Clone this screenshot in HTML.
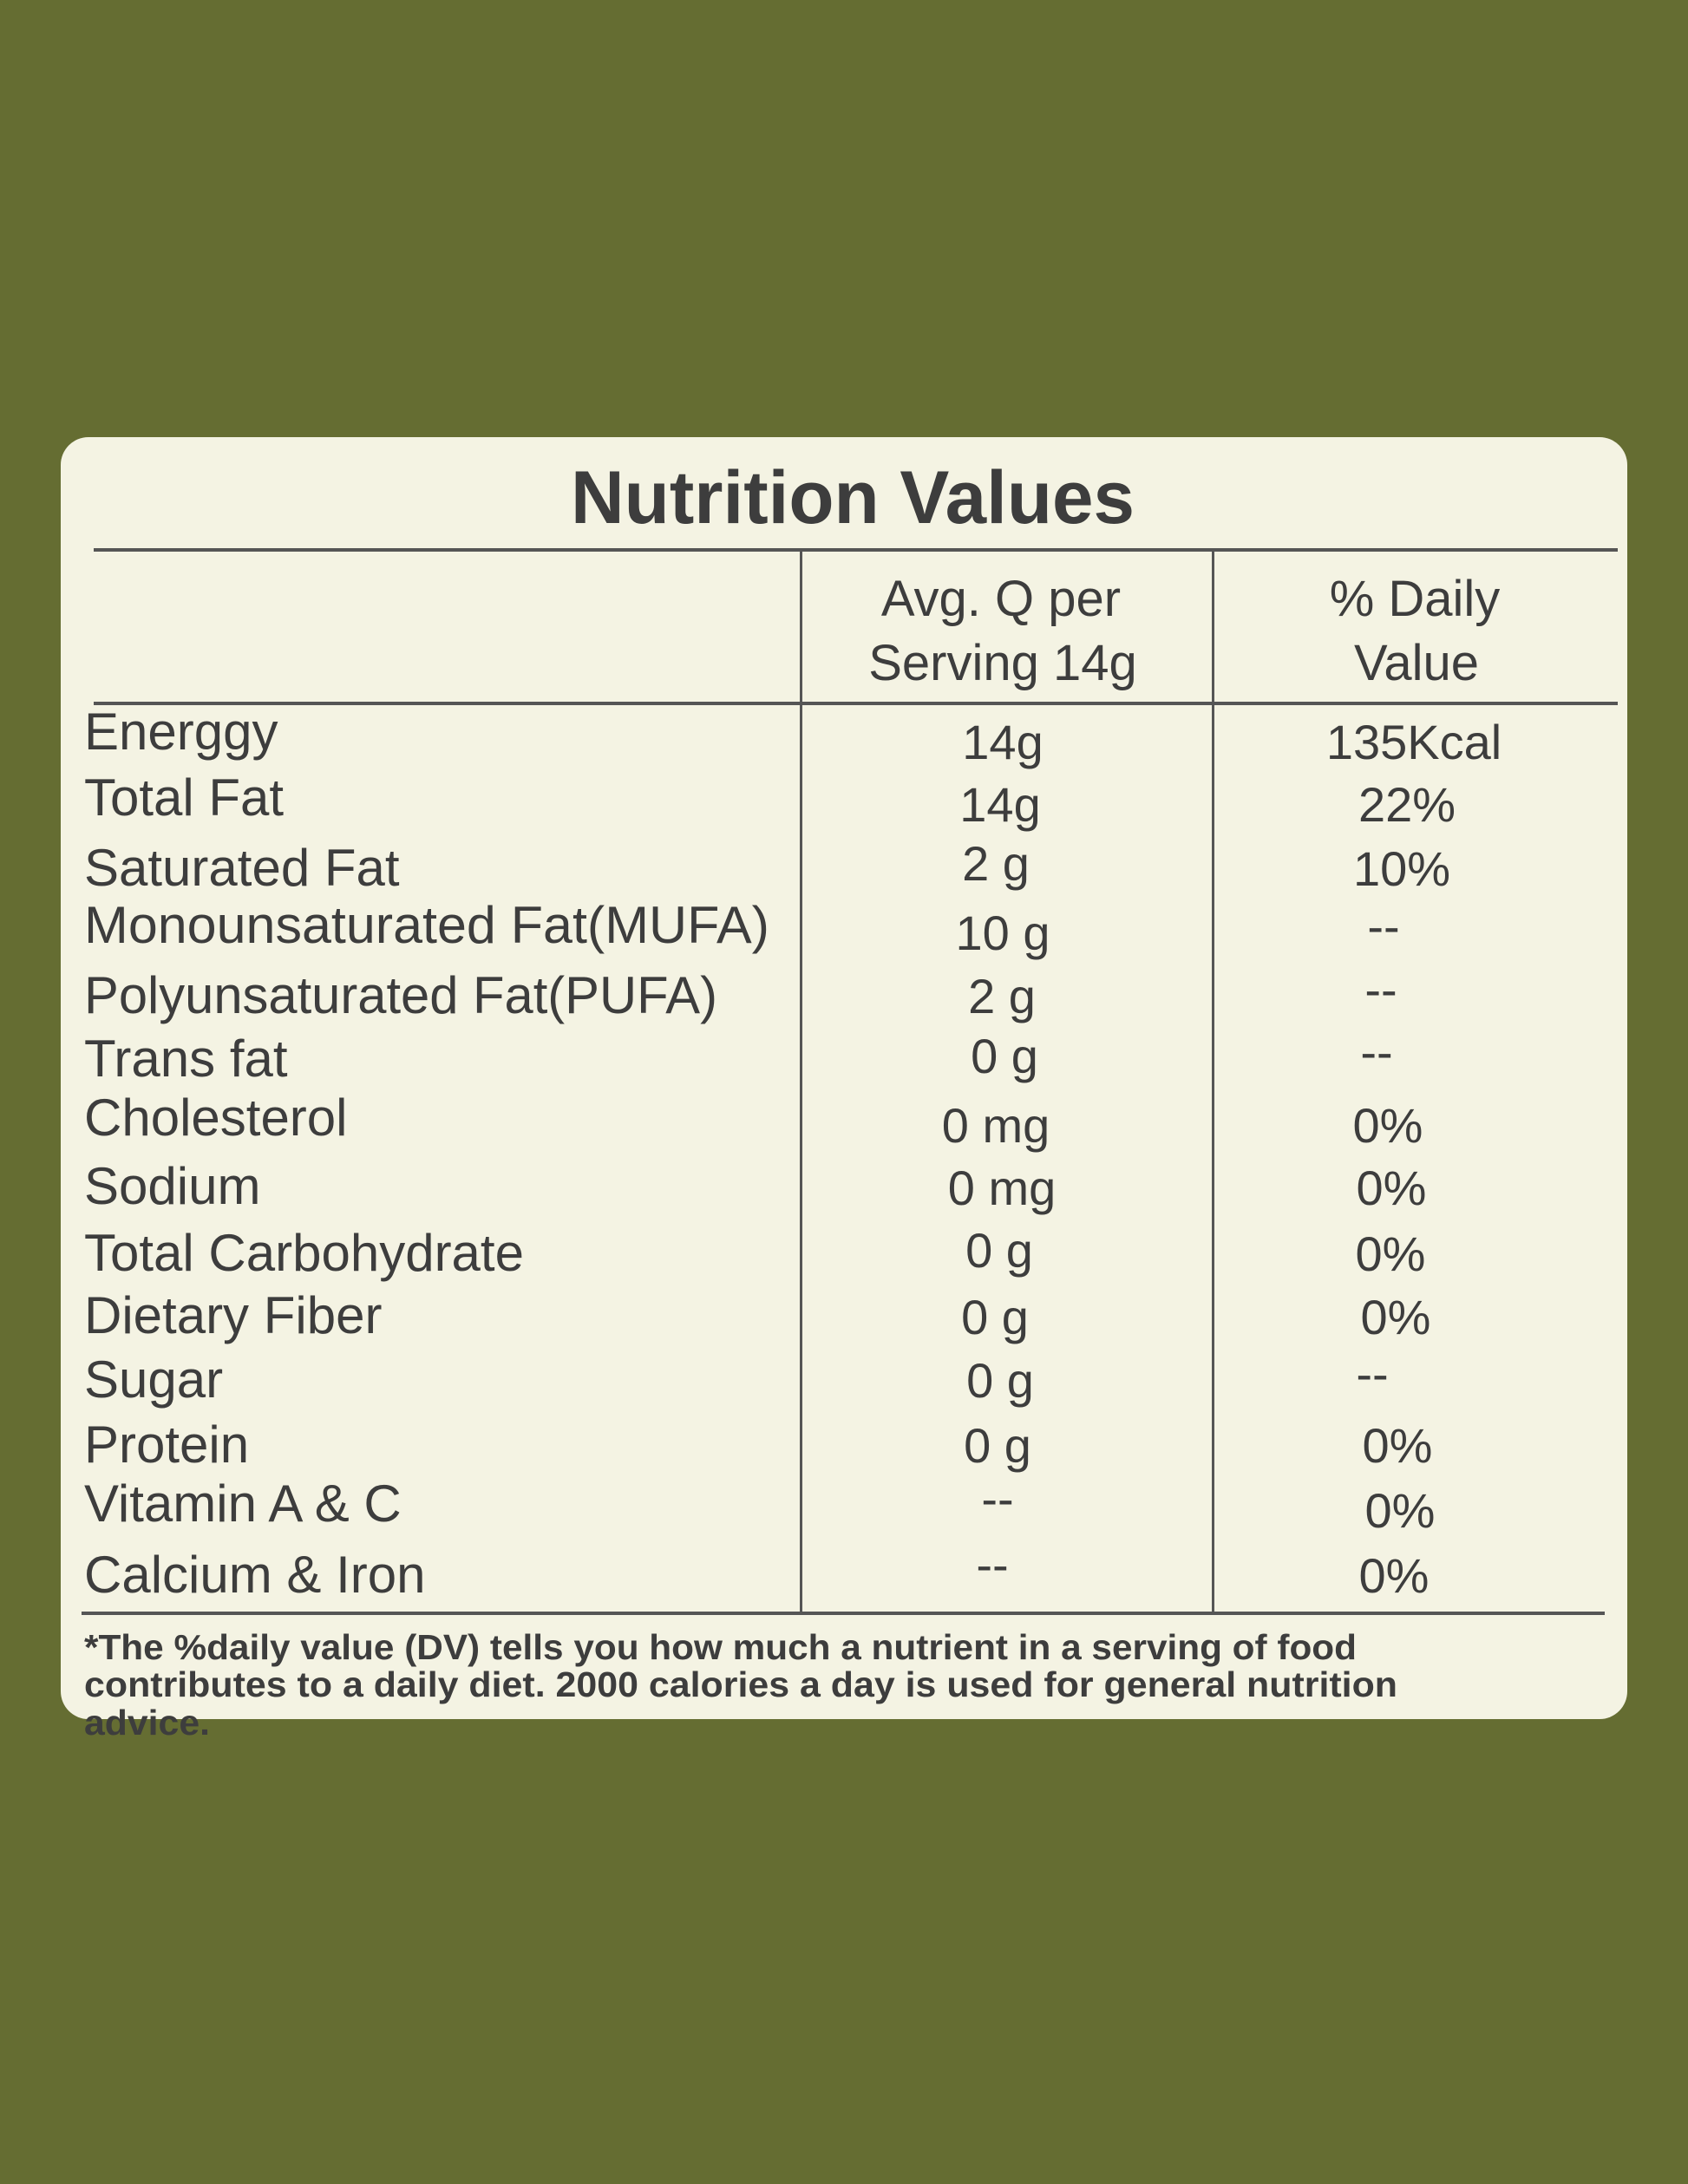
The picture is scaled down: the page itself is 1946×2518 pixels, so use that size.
<!DOCTYPE html>
<html><head><meta charset="utf-8"><style>
html,body{margin:0;padding:0;background:#656d32;}
svg{display:block}
text{font-family:"Liberation Sans",sans-serif;fill:#3d3d3d}
</style></head><body>
<svg width="1946" height="2518" viewBox="0 0 1946 2518" xmlns="http://www.w3.org/2000/svg">
<rect x="0" y="0" width="1946" height="2518" fill="#656d32"/>
<rect x="70" y="504" width="1806" height="1478" rx="32" fill="#f4f3e3"/>
<text x="983" y="603" text-anchor="middle" font-size="86" font-weight="bold" textLength="650" lengthAdjust="spacingAndGlyphs">Nutrition Values</text>
<rect x="108" y="632" width="1757" height="4" fill="#555"/>
<rect x="108" y="809" width="1757" height="4" fill="#555"/>
<rect x="94" y="1858" width="1756" height="4" fill="#555"/>
<rect x="922" y="634" width="3" height="1226" fill="#555"/>
<rect x="1397" y="634" width="3" height="1226" fill="#555"/>
<g font-size="58" text-anchor="middle">
<text x="1154" y="710">Avg. Q per</text>
<text x="1156" y="784">Serving 14g</text>
<text x="1631" y="710">% Daily</text>
<text x="1633" y="784">Value</text>
</g>
<g font-size="60">
<text x="97" y="864">Energgy</text>
<text x="97" y="940">Total Fat</text>
<text x="97" y="1021">Saturated Fat</text>
<text x="97" y="1087" textLength="790" lengthAdjust="spacingAndGlyphs">Monounsaturated Fat(MUFA)</text>
<text x="97" y="1168" textLength="730" lengthAdjust="spacingAndGlyphs">Polyunsaturated Fat(PUFA)</text>
<text x="97" y="1241">Trans fat</text>
<text x="97" y="1309">Cholesterol</text>
<text x="97" y="1388">Sodium</text>
<text x="97" y="1465">Total Carbohydrate</text>
<text x="97" y="1537">Dietary Fiber</text>
<text x="97" y="1611">Sugar</text>
<text x="97" y="1686">Protein</text>
<text x="97" y="1754">Vitamin A &amp; C</text>
<text x="97" y="1836">Calcium &amp; Iron</text>
</g>
<g font-size="56" text-anchor="middle">
<text x="1156" y="875">14g</text>
<text x="1153" y="947">14g</text>
<text x="1148" y="1015">2 g</text>
<text x="1156" y="1095">10 g</text>
<text x="1155" y="1168">2 g</text>
<text x="1158" y="1237">0 g</text>
<text x="1148" y="1317">0 mg</text>
<text x="1155" y="1389">0 mg</text>
<text x="1152" y="1461">0 g</text>
<text x="1147" y="1538">0 g</text>
<text x="1153" y="1611">0 g</text>
<text x="1150" y="1686">0 g</text>
<text x="1150" y="1747">--</text>
<text x="1144" y="1823">--</text>
<text x="1630" y="875">135Kcal</text>
<text x="1622" y="947">22%</text>
<text x="1616" y="1021">10%</text>
<text x="1595" y="1087">--</text>
<text x="1592" y="1160">--</text>
<text x="1587" y="1232">--</text>
<text x="1600" y="1317">0%</text>
<text x="1604" y="1389">0%</text>
<text x="1603" y="1465">0%</text>
<text x="1609" y="1538">0%</text>
<text x="1582" y="1603">--</text>
<text x="1611" y="1686">0%</text>
<text x="1614" y="1761">0%</text>
<text x="1607" y="1836">0%</text>
</g>
<g font-size="41" font-weight="bold">
<text x="97" y="1913" textLength="1467" lengthAdjust="spacingAndGlyphs">*The %daily value (DV) tells you how much a nutrient in a serving of food</text>
<text x="97" y="1956" textLength="1514" lengthAdjust="spacingAndGlyphs">contributes to a daily diet. 2000 calories a day is used for general nutrition</text>
<text x="97" y="2000" textLength="145" lengthAdjust="spacingAndGlyphs">advice.</text>
</g>
</svg>
</body></html>
